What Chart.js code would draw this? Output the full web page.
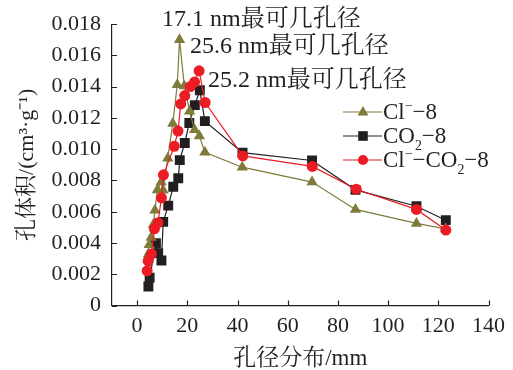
<!DOCTYPE html>
<html>
<head>
<meta charset="utf-8">
<script src="https://cdn.jsdelivr.net/npm/chart.js@4.4.1/dist/chart.umd.min.js"></script>
<style>
    html, body { margin: 0; padding: 0; background: #fff; }
</style>
</head>
<body>
<canvas id="poreChart" width="513" height="370"></canvas>
<script>
// tick values
const xTicks = [0, 20, 40, 60, 80, 100, 120, 140];
const yTicks = [0, 0.002, 0.004, 0.006, 0.008, 0.010, 0.012, 0.014, 0.016, 0.018];

// Cl- -8
const clX = [4.5, 4.8, 5.6, 6.5, 7.1, 8.1, 9.6, 10.4, 12.2, 14.2, 16.0, 16.9, 18.8, 20.9, 22.9, 24.8, 27.0, 41.9, 69.7, 87.0, 111.3, 123.0];
const clY = [0.00329, 0.00389, 0.00435, 0.00518, 0.0061, 0.00739, 0.0079, 0.00737, 0.00942, 0.01164, 0.01412, 0.0170, 0.01405, 0.01243, 0.01124, 0.01084, 0.0098, 0.00885, 0.0079, 0.00615, 0.00525, 0.0049];

// CO2-8
const co2X = [4.5, 5.0, 7.5, 8.4, 9.7, 10.4, 12.4, 14.4, 16.4, 17.0, 19.0, 20.8, 23.0, 25.0, 27.0, 42.0, 69.7, 87.0, 111.3, 123.0];
const co2Y = [0.00122, 0.00178, 0.00398, 0.00335, 0.00288, 0.00535, 0.00639, 0.0076, 0.00814, 0.0093, 0.0104, 0.01168, 0.01282, 0.01377, 0.0118, 0.00978, 0.00928, 0.0074, 0.00635, 0.00546];

// Cl- -CO2-8
const mixX = [4.0, 4.4, 5.7, 6.9, 8.3, 9.7, 10.5, 14.8, 16.3, 17.4, 19.0, 21.2, 22.9, 24.7, 27.1, 42.1, 69.8, 87.3, 111.3, 123.0];
const mixY = [0.00222, 0.00285, 0.00329, 0.00491, 0.00529, 0.00689, 0.00836, 0.01019, 0.01116, 0.0129, 0.01343, 0.01401, 0.0143, 0.01502, 0.01299, 0.00957, 0.0089, 0.00744, 0.00615, 0.00483];

// legend labels as rich text parts: [text, 'sup' | 'sub' | '']
const legendLabels = [
    [['Cl', ''], ['−', 'sup'], ['−8', '']],
    [['CO', ''], ['2', 'sub'], ['−8', '']],
    [['Cl', ''], ['−', 'sup'], ['−CO', ''], ['2', 'sub'], ['−8', '']]
];

const peakNotes = ['17.1 nm最可几孔径', '25.6 nm最可几孔径', '25.2 nm最可几孔径'];

const SERIF = '"Liberation Serif", "Times New Roman", "Noto Serif CJK SC", "Noto Sans CJK SC", serif';
const OLIVE = '#7f7b3b';
const BLACK = '#231f20';
const RED = '#ec1c24';

function toPoints(xs, ys) {
    return xs.map((x, i) => ({ x: x, y: ys[i] }));
}

function drawRich(ctx, parts, x, y, size) {
    let cx = x;
    parts.forEach(([text, kind]) => {
        let fs = size, dy = 0;
        if (kind === 'sup') { fs = size * 0.6; dy = -size * 0.4; }
        if (kind === 'sub') { fs = size * 0.6; dy = size * 0.3; }
        ctx.font = fs + 'px ' + SERIF;
        ctx.fillText(text, cx, y + dy);
        cx += ctx.measureText(text).width;
    });
}

function drawMarker(ctx, style, x, y, r) {
    ctx.beginPath();
    if (style === 'triangle') {
        ctx.moveTo(x, y - r);
        ctx.lineTo(x + r * 0.9, y + r * 0.6);
        ctx.lineTo(x - r * 0.9, y + r * 0.6);
        ctx.closePath();
    } else if (style === 'rect') {
        ctx.rect(x - r * 0.8, y - r * 0.8, r * 1.6, r * 1.6);
    } else {
        ctx.arc(x, y, r * 0.85, 0, Math.PI * 2);
    }
    ctx.fill();
}

const extrasPlugin = {
    id: 'extras',
    afterDraw(chart) {
        const ctx = chart.ctx;
        const xs = chart.scales.x, ys = chart.scales.y;
        const area = chart.chartArea;
        ctx.save();

        // inward tick marks
        ctx.strokeStyle = BLACK;
        ctx.lineWidth = 1.2;
        ctx.beginPath();
        xTicks.forEach(v => {
            const px = Math.round(xs.getPixelForValue(v)) + 0.5;
            ctx.moveTo(px, area.bottom);
            ctx.lineTo(px, area.bottom - 5);
        });
        yTicks.forEach(v => {
            const py = Math.round(ys.getPixelForValue(v)) + 0.5;
            ctx.moveTo(area.left, py);
            ctx.lineTo(area.left + 5, py);
        });
        ctx.stroke();

        // peak notes
        ctx.fillStyle = BLACK;
        ctx.textBaseline = 'alphabetic';
        ctx.textAlign = 'left';
        ctx.font = '24px ' + SERIF;
        ctx.fillText(peakNotes[0], 162, 26);
        ctx.fillText(peakNotes[1], 190, 53);
        ctx.fillText(peakNotes[2], 208, 87);

        // legend
        const rows = [112, 136, 160];
        chart.data.datasets.forEach((ds, i) => {
            const y = rows[i];
            ctx.strokeStyle = ds.borderColor;
            ctx.lineWidth = 1.2;
            ctx.beginPath();
            ctx.moveTo(343, y);
            ctx.lineTo(382, y);
            ctx.stroke();
            ctx.fillStyle = ds.backgroundColor;
            drawMarker(ctx, ds.pointStyle, 363, y, 6);
            ctx.fillStyle = BLACK;
            drawRich(ctx, legendLabels[i], 383, y + 7, 23);
        });
        ctx.restore();
    }
};

const ctx = document.getElementById('poreChart').getContext('2d');
new Chart(ctx, {
    type: 'line',
    data: {
        datasets: [
            {
                label: 'Cl−8',
                data: toPoints(clX, clY),
                borderColor: OLIVE,
                backgroundColor: OLIVE,
                pointStyle: 'triangle',
                pointRadius: 6.5,
                borderWidth: 1.2,
                pointBorderWidth: 0,
                order: 2
            },
            {
                label: 'CO2−8',
                data: toPoints(co2X, co2Y),
                borderColor: BLACK,
                backgroundColor: BLACK,
                pointStyle: 'rect',
                pointRadius: 7,
                borderWidth: 1.2,
                pointBorderWidth: 0,
                order: 3
            },
            {
                label: 'Cl−CO2−8',
                data: toPoints(mixX, mixY),
                borderColor: RED,
                backgroundColor: RED,
                pointStyle: 'circle',
                pointRadius: 5.5,
                borderWidth: 1.2,
                pointBorderWidth: 0,
                order: 1
            }
        ]
    },
    options: {
        responsive: false,
        animation: false,
        devicePixelRatio: 1,
        layout: { padding: { left: 0, right: 24, top: 18, bottom: 0 } },
        plugins: {
            legend: { display: false },
            tooltip: { enabled: false }
        },
        elements: { line: { tension: 0 } },
        scales: {
            x: {
                type: 'linear',
                min: -10,
                max: 140,
                grid: { display: false, drawTicks: false },
                border: { display: true, color: BLACK, width: 1.2 },
                ticks: { color: BLACK, font: { family: SERIF, size: 22 }, padding: 8 },
                afterBuildTicks: scale => { scale.ticks = xTicks.map(v => ({ value: v })); },
                afterFit: scale => { scale.height = 64.5; },
                title: {
                    display: true,
                    text: '孔径分布/mm',
                    color: BLACK,
                    font: { family: SERIF, size: 23, lineHeight: 1 },
                    padding: { top: 0, bottom: 0 }
                }
            },
            y: {
                type: 'linear',
                min: 0,
                max: 0.018,
                grid: { display: false, drawTicks: false },
                border: { display: true, color: BLACK, width: 1.2 },
                ticks: {
                    color: BLACK,
                    font: { family: SERIF, size: 22 },
                    padding: 11,
                    callback: v => v === 0 ? '0' : v.toFixed(3)
                },
                afterBuildTicks: scale => { scale.ticks = yTicks.map(v => ({ value: v })); },
                afterFit: scale => { scale.width = 112; },
                title: {
                    display: true,
                    text: '孔体积/(cm³·g⁻¹)',
                    color: BLACK,
                    font: { family: SERIF, size: 22, lineHeight: 1 },
                    padding: { top: 16, bottom: 0 }
                }
            }
        }
    },
    plugins: [extrasPlugin]
});
</script>
</body>
</html>
